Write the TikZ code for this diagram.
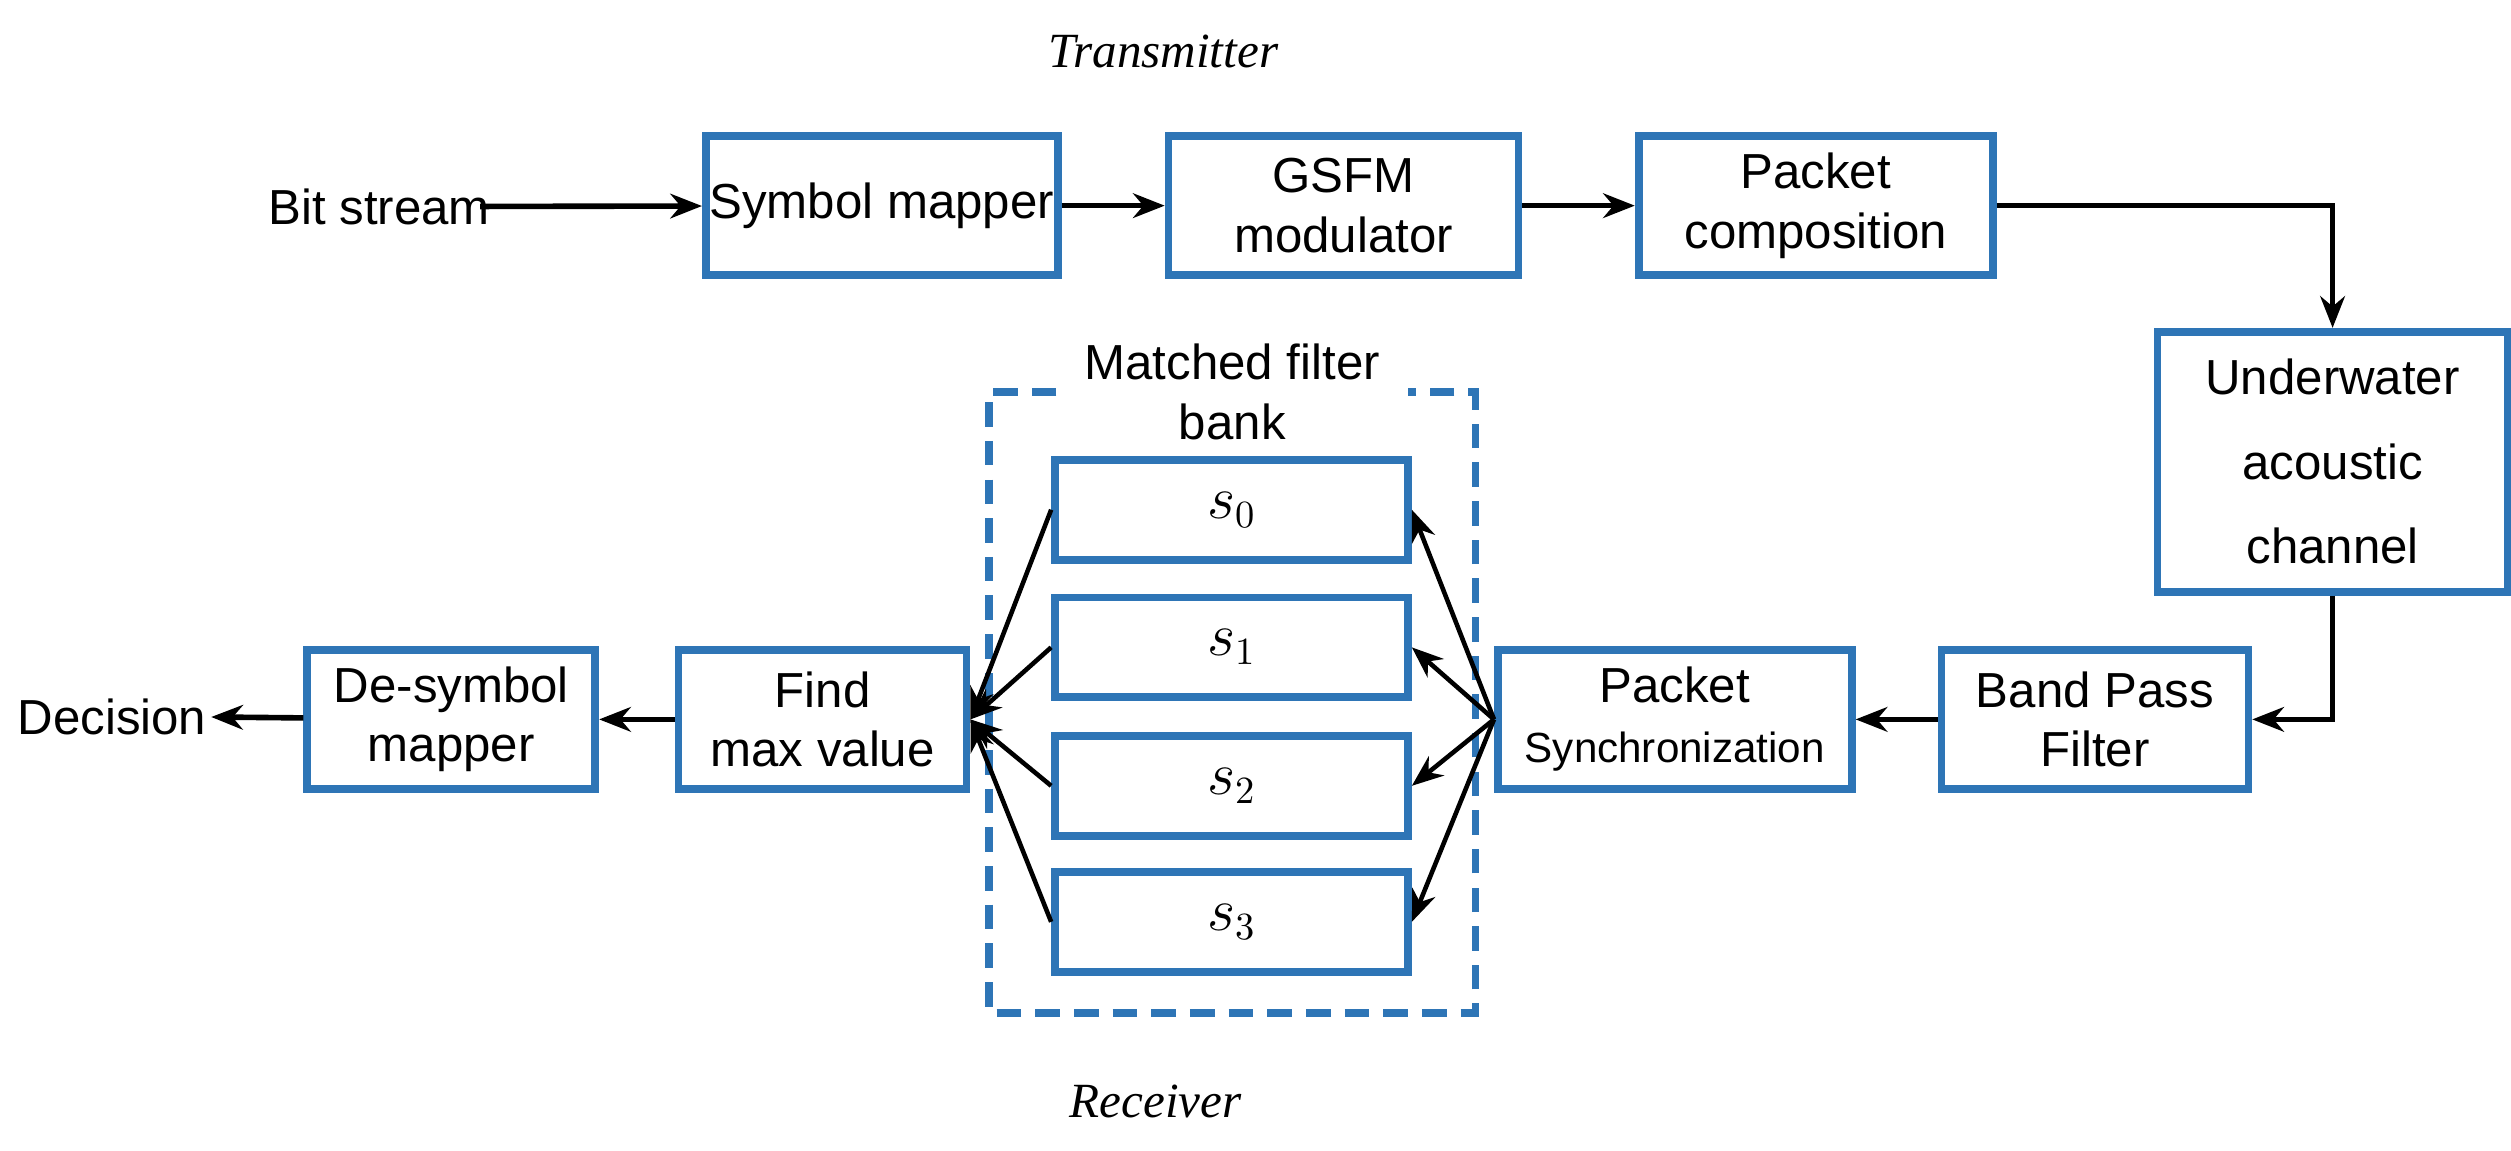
\documentclass[tikz,border=0pt]{standalone}
\usepackage{fontspec}
\setmainfont{Liberation Sans}
\newfontfamily\serifit{Liberation Serif}
\usetikzlibrary{arrows.meta}
\definecolor{bx}{HTML}{2E75B6}
\begin{document}
\begin{tikzpicture}[x=0.016cm,y=-0.016cm,
  box/.style={draw=bx,line width=2.2pt,inner sep=0pt,align=center,font=\fontsize{14}{17}\selectfont},
  arr/.style={line width=1.6pt,-{Stealth[length=9pt,width=7pt]}},
  lbl/.style={font=\fontsize{14}{17}\selectfont,align=center},
  ttl/.style={font=\serifit\itshape\fontsize{14}{17}\selectfont}]
\useasboundingbox (0,0) rectangle (1569,719);
\node[ttl] (tx) at (727,32) {Transmitter};
\node[ttl] (rx) at (722,688) {Receiver};
\node[lbl] (bs) at (237,129) {Bit stream};
\coordinate (bsr) at (300,129);
\node[box] (sm) at (551,128.5) [minimum width=3.52cm,minimum height=1.39cm] {Symbol mapper};
\node[box] (gm) at (839.5,128.5) [minimum width=3.5cm,minimum height=1.39cm] {GSFM\\modulator};
\node[box] (pc) at (1134.5,128.5) [minimum width=3.54cm,minimum height=1.39cm] {Packet\\composition};
\node[box] (uw) at (1457.5,288.5) [minimum width=3.5cm,minimum height=2.6cm,font=\fontsize{14}{24}\selectfont] {Underwater\\acoustic\\channel};
\node[box] (bp) at (1309,449.5) [minimum width=3.07cm,minimum height=1.39cm] {Band Pass\\Filter};
\node[box] (ps) at (1046.5,449.5) [minimum width=3.54cm,minimum height=1.39cm] {Packet\\{\fontsize{12}{15}\selectfont Synchronization}};
\node[box] (fm) at (514,449.5) [minimum width=2.88cm,minimum height=1.39cm] {Find\\max value};
\node[box] (ds) at (282,449.5) [minimum width=2.88cm,minimum height=1.39cm] {De-symbol\\mapper};
\node[lbl] (dec) at (70,448) {Decision};
\coordinate (decr) at (132,448);
\draw[draw=bx,line width=2.2pt,dash pattern=on 7pt off 4pt] (660,245) -- (618,245) -- (618,633) -- (922,633) -- (922,245) -- (880,245);
\node[lbl] (mfb) at (770,245) {Matched filter\\bank};
\node[box] (s0) at (769.5,318.5) [minimum width=3.53cm,minimum height=1.0cm] {\fontsize{16}{18}\selectfont$s_0$};
\node[box] (s1) at (769.5,404.5) [minimum width=3.53cm,minimum height=1.0cm] {\fontsize{16}{18}\selectfont$s_1$};
\node[box] (s2) at (769.5,491) [minimum width=3.53cm,minimum height=1.0cm] {\fontsize{16}{18}\selectfont$s_2$};
\node[box] (s3) at (769.5,576) [minimum width=3.53cm,minimum height=1.0cm] {\fontsize{16}{18}\selectfont$s_3$};
\draw[arr] (bsr) -- (sm);
\draw[arr] (sm) -- (gm);
\draw[arr] (gm) -- (pc);
\draw[arr] (pc.east) -| (uw.north);
\draw[arr] (uw.south) |- (bp.east);
\draw[arr] (bp) -- (ps);
\foreach \s in {s0,s1,s2,s3}{
  \draw[arr,line width=1.3pt] (ps.west) -- (\s.east);
  \draw[arr,line width=1.3pt] (\s.west) -- (fm.east);
}
\draw[arr] (fm) -- (ds);
\draw[arr] (ds) -- (decr);
\end{tikzpicture}
\end{document}
